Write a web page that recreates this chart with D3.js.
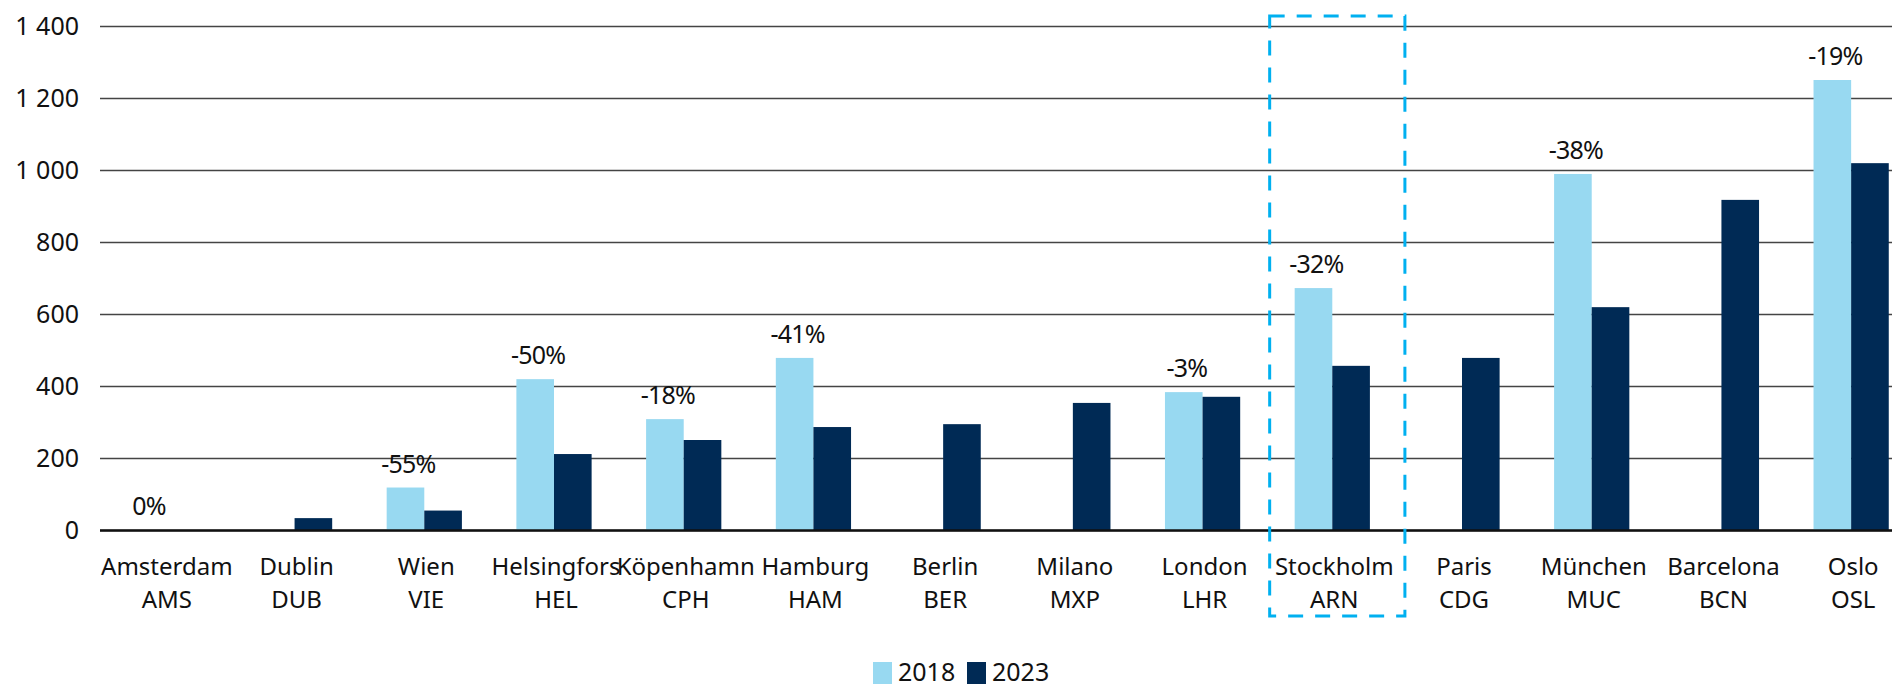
<!DOCTYPE html>
<html>
<head>
<meta charset="utf-8">
<script src="https://cdnjs.cloudflare.com/ajax/libs/d3/7.8.5/d3.min.js"></script>
<style>
  html, body { margin: 0; padding: 0; background: #fff; overflow: hidden; }
  text { font-family: "Noto Sans", "Open Sans", sans-serif; fill: #111; }
</style>
</head>
<body>
<div id="chart"></div>
<script>
// data
var cities = ["Amsterdam", "Dublin", "Wien", "Helsingfors", "Köpenhamn", "Hamburg", "Berlin",
              "Milano", "London", "Stockholm", "Paris", "München", "Barcelona", "Oslo"];
var codes = ["AMS", "DUB", "VIE", "HEL", "CPH", "HAM", "BER", "MXP", "LHR", "ARN", "CDG", "MUC", "BCN", "OSL"];
var years = ["2018", "2023"];
var values2018 = [0, 0, 118, 419, 308, 478, 0, 0, 383, 672, 0, 989, 0, 1250];
var values2023 = [0, 33, 54, 211, 250, 286, 294, 353, 370, 456, 478, 619, 917, 1019];
var changes = ["0%", "", "-55%", "-50%", "-18%", "-41%", "", "", "-3%", "-32%", "", "-38%", "", "-19%"];
var yTicks = [0, 200, 400, 600, 800, 1000, 1200, 1400];
var highlight = "Stockholm";

var colors = {"2018": "#98d9f1", "2023": "#002a55"};

var width = 1892,
    height = 687;

var svg = d3.select("#chart")
    .append("svg")
    .attr("width", width)
    .attr("height", height);

// plot area runs a bit past the right edge, like the source
var x = d3.scaleBand()
    .domain(cities)
    .range([100, 1916])
    .paddingInner(0.42)
    .paddingOuter(0.21);

var x1 = d3.scaleBand()
    .domain(years)
    .range([0, x.bandwidth()]);

var y = d3.scaleLinear()
    .domain([0, 1400])
    .range([530, 26]);

var fmt = d3.formatLocale({decimal: ",", thousands: " ", grouping: [3], currency: ["", " kr"]}).format(",d");

// gridlines + y labels
var yAxis = svg.append("g")
    .attr("transform", "translate(100,0)")
    .call(d3.axisLeft(y).tickValues(yTicks).tickFormat(fmt).tickSize(-1816).tickPadding(21));

yAxis.select(".domain").remove();
yAxis.selectAll(".tick line")
    .attr("stroke", "#444")
    .attr("stroke-width", 1.6);
yAxis.selectAll(".tick text")
    .style("font-size", "25px")
    .style("font-family", "'Noto Sans', sans-serif")
    .attr("fill", "#111");

// bars
var rows = cities.map(function(c, i) {
    return {city: c, code: codes[i], change: changes[i],
            vals: [{year: "2018", v: values2018[i]}, {year: "2023", v: values2023[i]}]};
});

var groups = svg.selectAll("g.city")
    .data(rows)
    .enter()
    .append("g")
    .attr("class", "city")
    .attr("transform", function(d) { return "translate(" + x(d.city) + ",0)"; });

groups.selectAll("rect")
    .data(function(d) { return d.vals.filter(function(e) { return e.v > 0; }); })
    .enter()
    .append("rect")
    .attr("x", function(d) { return x1(d.year); })
    .attr("y", function(d) { return y(d.v); })
    .attr("width", x1.bandwidth())
    .attr("height", function(d) { return y(0) - y(d.v); })
    .attr("fill", function(d) { return colors[d.year]; });

// baseline
svg.append("line")
    .attr("x1", 100).attr("x2", width)
    .attr("y1", y(0) + 0.5).attr("y2", y(0) + 0.5)
    .attr("stroke", "#111")
    .attr("stroke-width", 2.6);

// change labels above the 2018 bar
groups.filter(function(d) { return d.change !== ""; })
    .append("text")
    .attr("x", x1("2018") + x1.bandwidth() / 2 + 3)
    .attr("y", function(d) { return y(d.vals[0].v) - 15; })
    .attr("text-anchor", "middle")
    .style("font-size", "25px")
    .style("letter-spacing", "-0.8px")
    .text(function(d) { return d.change; });

// category labels, two lines
var cat = svg.append("g")
    .selectAll("text")
    .data(rows)
    .enter()
    .append("text")
    .attr("text-anchor", "middle")
    .style("font-size", "24px");

cat.append("tspan")
    .attr("x", function(d) { return x(d.city) + x.bandwidth() / 2 + 2; })
    .attr("y", 575)
    .text(function(d) { return d.city; });

cat.append("tspan")
    .attr("x", function(d) { return x(d.city) + x.bandwidth() / 2 + 2; })
    .attr("y", 608)
    .text(function(d) { return d.code; });

// dashed box around the highlighted airport
svg.append("rect")
    .attr("x", x(highlight) - 25)
    .attr("y", 16)
    .attr("width", x.bandwidth() + 60)
    .attr("height", 600)
    .attr("fill", "none")
    .attr("stroke", "#00b0f0")
    .attr("stroke-width", 3)
    .attr("stroke-dasharray", "15,12");

// legend (sits right at the bottom edge)
var legend = svg.append("g")
    .selectAll("g")
    .data(years)
    .enter()
    .append("g")
    .attr("transform", function(d, i) { return "translate(" + (873 + i * 94) + ",0)"; });

legend.append("rect")
    .attr("y", 662)
    .attr("width", 19)
    .attr("height", 22)
    .attr("fill", function(d) { return colors[d]; });

legend.append("text")
    .attr("x", 25)
    .attr("y", 681)
    .style("font-size", "25px")
    .text(function(d) { return d; });
</script>
</body>
</html>
